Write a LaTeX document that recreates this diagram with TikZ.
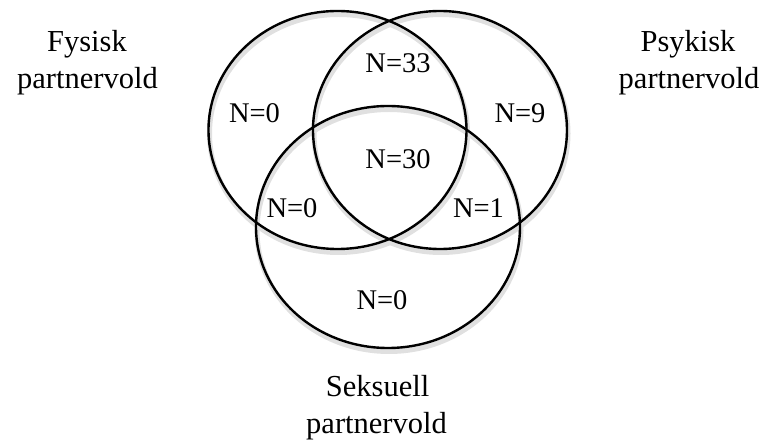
\documentclass[tikz,border=0pt]{standalone}
\usepackage{fontspec}
\setmainfont{Liberation Serif}
\begin{document}
\begin{tikzpicture}[x=1pt,y=-1pt,
  ring/.style={line width=2.4pt,draw=black},
  shade/.style={line width=5pt,draw=black!12},
  lbl/.style={inner sep=0pt,anchor=base,font=\fontsize{28.5}{34}\selectfont},
  setlbl/.style={inner sep=0pt,anchor=base,font=\fontsize{30.5}{36}\selectfont}]
\useasboundingbox (0,0) rectangle (765,443);
% soft shadows
\draw[shade] (338.5,133.5) ellipse [x radius=129, y radius=119];
\draw[shade] (441,133.5) ellipse [x radius=127, y radius=119];
\draw[shade] (389,230.5) ellipse [x radius=132, y radius=121];
% circles
\draw[ring] (337.5,130) ellipse [x radius=129, y radius=119];
\draw[ring] (440,130) ellipse [x radius=127, y radius=119];
\draw[ring] (388,227) ellipse [x radius=132, y radius=121];
% counts
\node[lbl] (n33) at (398,73) {N=33};
\node[lbl] (nf) at (254.5,122.7) {N=0};
\node[lbl] (np) at (520,122.7) {N=9};
\node[lbl] (n30) at (398,168.3) {N=30};
\node[lbl] (nfs) at (292,217.3) {N=0};
\node[lbl] (nps) at (478.5,217.3) {N=1};
\node[lbl] (ns) at (382,310) {N=0};
% set labels
\node[setlbl] (fys1) at (87,51.7) {Fysisk};
\node[setlbl] (fys2) at (87.5,88.3) {partnervold};
\node[setlbl] (psy1) at (688,51.7) {Psykisk};
\node[setlbl] (psy2) at (689,88.3) {partnervold};
\node[setlbl] (sek1) at (377.6,396.7) {Seksuell};
\node[setlbl] (sek2) at (376.5,433) {partnervold};
\end{tikzpicture}
\end{document}
